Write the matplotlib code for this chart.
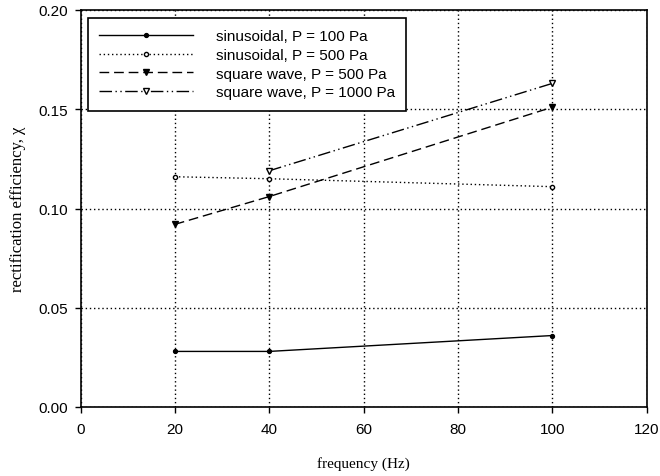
import matplotlib
matplotlib.use("Agg")
import matplotlib.pyplot as plt

sin100_x = [20, 40, 100]
sin100_y = [0.028, 0.028, 0.036]
sin500_x = [20, 40, 100]
sin500_y = [0.116, 0.115, 0.111]
sq500_x = [20, 40, 100]
sq500_y = [0.092, 0.106, 0.151]
sq1000_x = [40, 100]
sq1000_y = [0.119, 0.163]
labels = ["sinusoidal, P = 100 Pa", "sinusoidal, P = 500 Pa",
          "square wave, P = 500 Pa", "square wave, P = 1000 Pa"]

fig = plt.figure(figsize=(6.6, 4.77), dpi=100)
ax = fig.add_axes([80.5 / 660, (477 - 408) / 477, (646.5 - 80.5) / 660, (408 - 11) / 477])

sans = "Liberation Sans"
serif = "Liberation Serif"

ax.plot(sin100_x, sin100_y, color="black", lw=1.0, ls="-", marker="o", ms=2.8,
        mfc="black", label=labels[0])
ax.plot(sin500_x, sin500_y, color="black", lw=1.0, ls=(0, (1, 2)), marker="o", ms=3,
        mfc="white", label=labels[1])
ax.plot(sq500_x, sq500_y, color="black", lw=1.0, ls=(0, (7, 3.5)), marker="v", ms=3.8,
        mfc="black", label=labels[2])
ax.plot(sq1000_x, sq1000_y, color="black", lw=1.0, ls=(0, (9, 2.5, 1, 2.5, 1, 2.5)), marker="v", ms=4,
        mfc="white", label=labels[3])

ax.set_xlim(0, 120)
ax.set_ylim(0, 0.20)
ax.set_xticks([0, 20, 40, 60, 80, 100, 120])
ax.set_yticks([0.00, 0.05, 0.10, 0.15, 0.20])
ax.set_yticklabels(["0.00", "0.05", "0.10", "0.15", "0.20"])
ax.grid(True, color="black", ls=(0, (1, 2)), lw=1.0)
ax.tick_params(direction="out", length=4, width=1, labelsize=11, colors="black")
ax.tick_params(axis="x", pad=7)
ax.tick_params(axis="y", pad=5)
for lab in ax.get_xticklabels() + ax.get_yticklabels():
    lab.set_family(sans)
for s in ax.spines.values():
    s.set_linewidth(1.2)

ax.set_xlabel("frequency (Hz)", family=serif, fontsize=11, labelpad=14)
ax.set_ylabel("rectification efficiency, χ", family=serif, fontsize=12, labelpad=9)

leg = ax.legend(loc="upper left", bbox_to_anchor=(0.0133, 0.98), frameon=True, fancybox=False,
                edgecolor="black", framealpha=1, prop={"family": sans, "size": 11},
                handlelength=6.1, borderpad=0.75, labelspacing=0.3, handletextpad=1.5,
                borderaxespad=0, markerfirst=True)
leg.get_frame().set_linewidth(1.2)

fig.savefig("out.png", dpi=100)
